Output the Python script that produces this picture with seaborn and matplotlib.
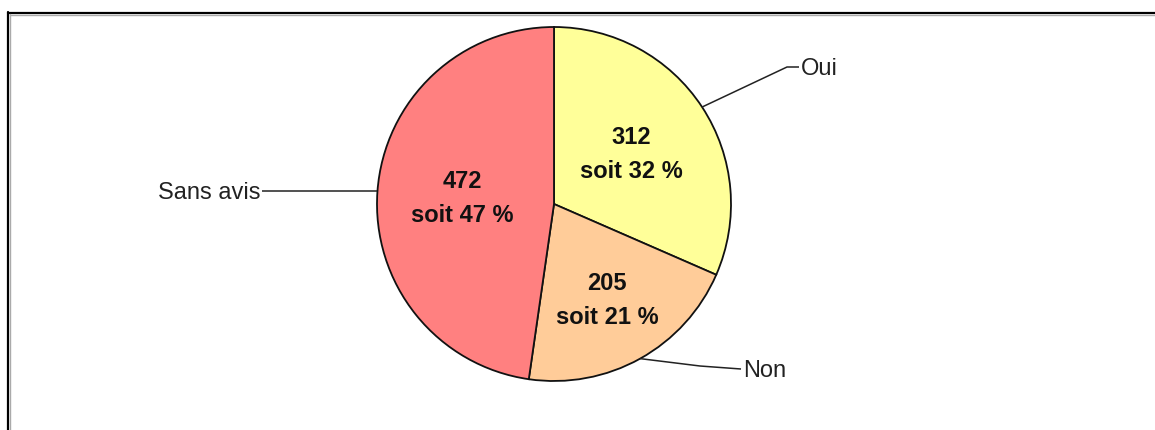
import matplotlib
matplotlib.use("Agg")
import matplotlib.pyplot as plt
import seaborn as sns
import numpy as np

categories = ["Oui", "Non", "Sans avis"]
values = [312, 205, 472]
percent_labels = [32, 21, 47]
colors = ["#FFFF99", "#FFCC99", "#FF8080"]

sns.set_theme(style="white")
plt.rcParams["font.family"] = ["Liberation Sans", "DejaVu Sans"]

W, H = 1155, 430
fig = plt.figure(figsize=(W / 100, H / 100), dpi=100)
fig.patch.set_facecolor("white")
ax = fig.add_axes([0, 0, 1, 1])

cx, cy, R = 554, 430 - 204, 177
wedges, _ = ax.pie(values, colors=colors, startangle=90, counterclock=False,
                   center=(cx, cy), radius=R, frame=True,
                   wedgeprops=dict(edgecolor="#111111", linewidth=1.3))
ax.set_xlim(0, W)
ax.set_ylim(0, H)
ax.set_aspect("equal")
ax.axis("off")

# inner labels
inner_r = [0.52, 0.615, 0.52]
for w, v, p, f in zip(wedges, values, percent_labels, inner_r):
    ang = np.deg2rad((w.theta1 + w.theta2) / 2)
    x = cx + f * R * np.cos(ang)
    y = cy + f * R * np.sin(ang)
    ax.text(x, y + 16, f"{v}", ha="center", va="center",
            fontsize=17, fontweight="bold", color="#111111")
    ax.text(x, y - 18, f"soit {p} %", ha="center", va="center",
            fontsize=17, fontweight="bold", color="#111111")

# outer labels with leader lines
outer = {
    "Oui": [(787, 430 - 67), (799, 430 - 67)],
    "Non": [(700, 430 - 366), (741, 430 - 369)],
    "Sans avis": [(300, None), (262, None)],
}
for w, name in zip(wedges, categories):
    ang = np.deg2rad((w.theta1 + w.theta2) / 2)
    x0 = cx + R * np.cos(ang)
    y0 = cy + R * np.sin(ang)
    xs, ys = [x0], [y0]
    for (px, py) in outer[name]:
        xs.append(px)
        ys.append(y0 if py is None else py)
    ax.plot(xs, ys, color="#222222", linewidth=1.1, solid_capstyle="butt")
    if name == "Sans avis":
        ax.text(xs[-1] - 2, ys[-1] - 2, name, ha="right", va="center", fontsize=17, color="#222222")
    else:
        ax.text(xs[-1] + 2, ys[-1] - 2, name, ha="left", va="center", fontsize=17, color="#222222")

# frame (top and left borders)
fig.add_artist(plt.Line2D([8 / W, 1.0], [1 - 12.5 / H, 1 - 12.5 / H], transform=fig.transFigure,
                          color="black", linewidth=1.6))
fig.add_artist(plt.Line2D([10 / W, 1.0], [1 - 14.5 / H, 1 - 14.5 / H], transform=fig.transFigure,
                          color="#aaaaaa", linewidth=1.0))
fig.add_artist(plt.Line2D([7.5 / W, 7.5 / W], [0, 1 - 12 / H], transform=fig.transFigure,
                          color="black", linewidth=1.6))
fig.add_artist(plt.Line2D([9.5 / W, 9.5 / W], [0, 1 - 14 / H], transform=fig.transFigure,
                          color="#aaaaaa", linewidth=1.0))

fig.savefig("out.png", dpi=100, facecolor="white")
